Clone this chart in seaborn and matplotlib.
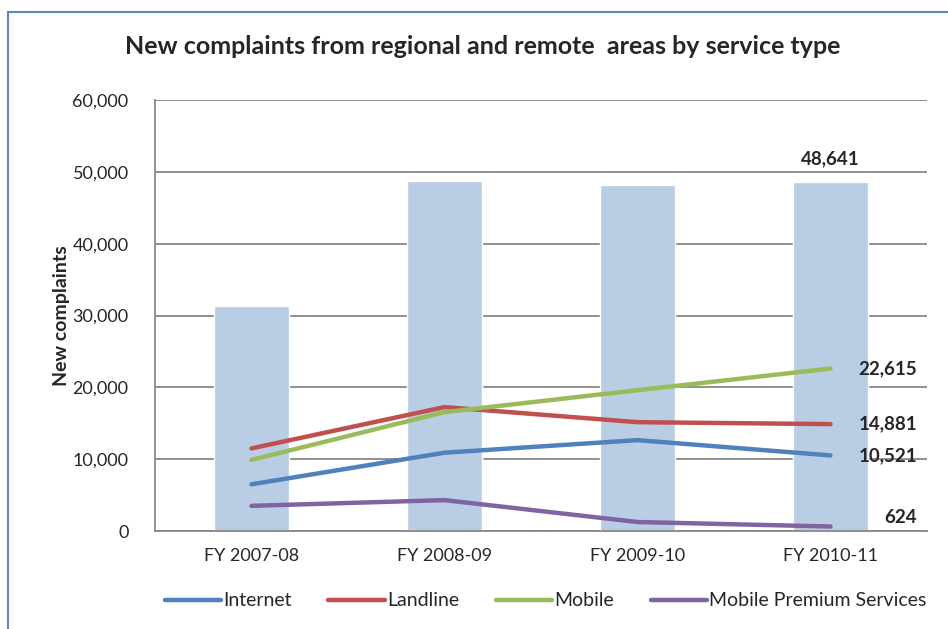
import numpy as np
import pandas as pd
import matplotlib.pyplot as plt
from matplotlib.patches import Rectangle
import seaborn as sns

sns.set_theme(style="white")
plt.rcParams["font.family"] = ["Lato", "DejaVu Sans"]

# Datos
years = ["FY 2007-08", "FY 2008-09", "FY 2009-10", "FY 2010-11"]
total = [31300, 48750, 48200, 48641]
internet = [6500, 10900, 12650, 10521]
landline = [11500, 17250, 15150, 14881]
mobile = [9900, 16550, 19600, 22615]
premium = [3500, 4300, 1250, 624]

series_names = ["Internet", "Landline", "Mobile", "Mobile Premium Services"]
series_vals = [internet, landline, mobile, premium]
colors = ["#4F81BD", "#C0504D", "#9BBB59", "#8064A2"]

fig = plt.figure(figsize=(9.48, 6.29), dpi=100)
ax = fig.add_axes([155 / 948, 1 - 531 / 629, 772 / 948, 431 / 629])

bars = pd.DataFrame({"year": years, "total": total})
sns.barplot(data=bars, x="year", y="total", color="#B9CDE5", saturation=1,
            width=0.39, ax=ax, zorder=2)

pos = np.arange(len(years))
for name, vals, c in zip(series_names, series_vals, colors):
    d = pd.DataFrame({"x": pos, "y": vals})
    sns.lineplot(data=d, x="x", y="y", color=c, linewidth=3.2, ax=ax,
                 label=name, zorder=3, solid_capstyle="round")

# Etiquetas
ax.text(pos[-1], total[-1] + 2000, f"{total[-1]:,}", ha="center", va="bottom",
        fontsize=13.5, fontweight="bold")
for vals in series_vals:
    y = vals[-1]
    if vals is premium:
        y = y + 1300
    ax.text(pos[-1] + 0.448, y, f"{vals[-1]:,}", ha="right", va="center",
            fontsize=13.5, fontweight="bold", zorder=4)

ax.set_xlim(-0.5, 3.5)
ax.set_ylim(0, 60000)
ax.set_yticks(np.arange(0, 60001, 10000))
ax.set_yticklabels([f"{v:,}" for v in range(0, 60001, 10000)], fontsize=13)
ax.tick_params(axis="x", labelsize=13, length=0, pad=12)
ax.tick_params(axis="y", length=0, pad=19)
ax.set_xlabel("")
ax.set_ylabel("New complaints", fontsize=14, fontweight="bold", labelpad=2)
ax.yaxis.grid(True, color="#888888", linewidth=1.3, zorder=0)
ax.set_axisbelow(True)
for s in ["top", "right"]:
    ax.spines[s].set_visible(False)
for s in ["left", "bottom"]:
    ax.spines[s].set_color("#888888")
    ax.spines[s].set_linewidth(1.3)

fig.text(483 / 948, 1 - 47 / 629,
         "New complaints from regional and remote  areas by service type",
         ha="center", va="center", fontsize=18, fontweight="bold")

leg = ax.legend(loc="center", bbox_to_anchor=(0.506, -0.162), ncol=4,
                frameon=False, fontsize=14, handlelength=2.9, handletextpad=0.1,
                columnspacing=1.9)

# Marco del cuadro de texto
fig.add_artist(Rectangle((8 / 948, -0.05), 1.1, 1 - 12 / 629 + 0.05,
                         transform=fig.transFigure, fill=False,
                         edgecolor="#5B87C5", linewidth=1.5))

plt.savefig("out.png", dpi=100)
